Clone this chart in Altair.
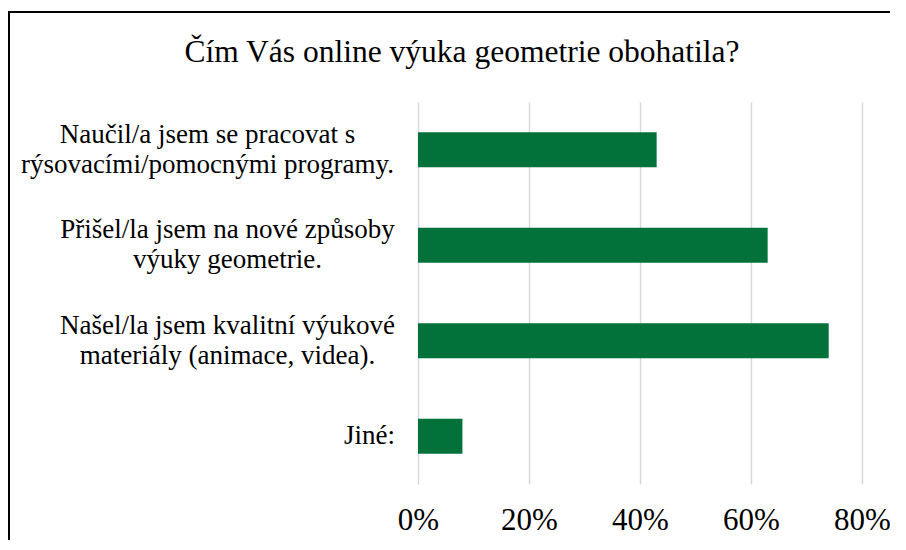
import altair as alt
import pandas as pd

categories = [
    "Naučil/a jsem se pracovat s|rýsovacími/pomocnými programy.",
    "Přišel/la jsem na nové způsoby|výuky geometrie.",
    "Našel/la jsem kvalitní výukové|materiály (animace, videa).",
    "Jiné:",
]
values = [0.43, 0.63, 0.74, 0.08]
x_ticks = [0, 0.2, 0.4, 0.6, 0.8]

df = pd.DataFrame({"cat": categories, "val": values})
FONT = "Liberation Serif"

bars = alt.Chart(df).mark_bar(color="#02713A").encode(
    x=alt.X(
        "val:Q",
        scale=alt.Scale(domain=[0, 0.8], nice=False),
        axis=alt.Axis(
            values=x_ticks,
            format=".0%",
            title=None,
            domain=False,
            ticks=False,
            tickSize=0,
            grid=True,
            gridColor="#d9d9d9",
            gridWidth=1.5,
            labelFont=FONT,
            labelFontSize=31,
            labelColor="#000000",
            labelPadding=21,
            labelFlush=False,
        ),
    ),
    y=alt.Y(
        "cat:N",
        sort=categories,
        scale=alt.Scale(paddingInner=0.635, paddingOuter=0.3175),
        axis=alt.Axis(
            title=None,
            domain=False,
            ticks=False,
            tickSize=0,
            grid=False,
            labelExpr="split(datum.label, '|')",
            labelAlign="center",
            labelBaseline="middle",
            labelPadding={
                "condition": [
                    {"test": "datum.label == 'Jiné:'", "value": 49},
                    {"test": "indexof(datum.label, 'Naučil') == 0", "value": 211},
                ],
                "value": 191,
            },
            labelOffset={
                "condition": {"test": "datum.label == 'Jiné:'", "value": 0},
                "value": -15,
            },
            labelFont=FONT,
            labelFontSize=27,
            labelLineHeight=30,
            labelColor="#000000",
            labelLimit=450,
        ),
    ),
)

frame_left = alt.Chart(df).mark_rule(color="#000000", strokeWidth=2).encode(
    x=alt.value(-409), y=alt.value(-90), y2=alt.value(600)
)
frame_top = alt.Chart(df).mark_rule(color="#000000", strokeWidth=2).encode(
    x=alt.value(-410), x2=alt.value(600), y=alt.value(-90)
)

chart = (
    alt.layer(bars, frame_left, frame_top)
    .properties(
        width=444,
        height=382,
        autosize=alt.AutoSizeParams(type="none"),
        padding={"left": 410, "top": 94, "right": 28, "bottom": 56},
        title=alt.TitleParams(
            text="Čím Vás online výuka geometrie obohatila?",
            anchor="middle",
            frame="group",
            dx=-178,
            offset=-57,
            font=FONT,
            fontSize=31.5,
            fontWeight="normal",
            color="#000000",
        ),
    )
    .configure_view(stroke=None)
)

chart.save("out.html", embed_options={"renderer": "svg", "actions": False})
